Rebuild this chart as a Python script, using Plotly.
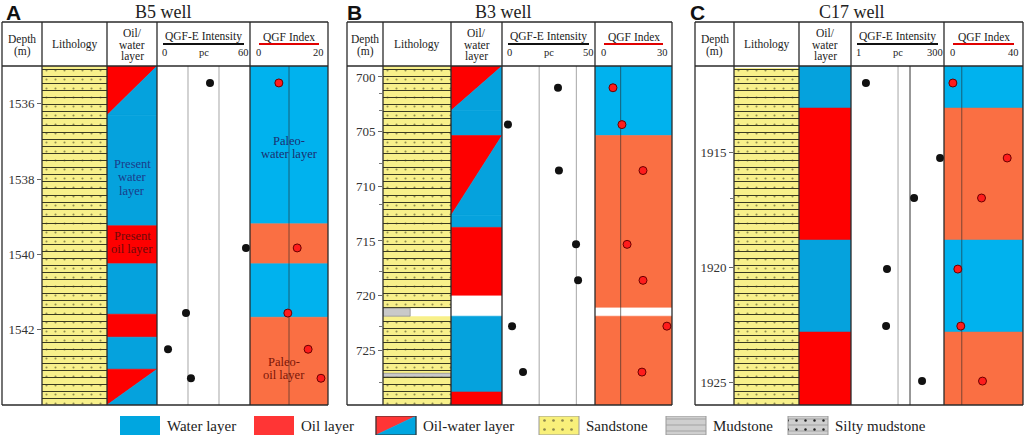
import math
import plotly.graph_objects as go

W, H = 1024, 438
def PX(px): return px / W
def PY(py): return 1 - py / H

FONT = "Liberation Serif"
WATER = "#05a2dd"; OIL = "#fe0000"; PALEO_W = "#00b2ee"; PALEO_O = "#fa6f43"; SAND = "#f8f08a"

# ---------------- data ----------------
A_range = [1535.0, 1544.0]
A_ticks = [1536, 1538, 1540, 1542]
A_layers = [(1535.0, 1536.31, 'ow'), (1536.31, 1539.24, 'w'), (1539.24, 1540.25, 'o'),
            (1540.25, 1541.59, 'w'), (1541.59, 1542.2, 'o'), (1542.2, 1543.05, 'w'),
            (1543.05, 1544.0, 'ow')]
A_paleo = [(1535.0, 1539.19, 'w'), (1539.19, 1540.25, 'o'), (1540.25, 1541.67, 'w'),
           (1541.67, 1544.0, 'o')]
A_litho = [(1535.0, 1544.0, 'sand')]
A_depth = [1535.45, 1539.83, 1541.56, 1542.52, 1543.29]
A_intensity = [34.2, 57.4, 18.7, 7.1, 21.9]
A_index = [7.4, 12.1, 9.7, 14.9, 18.2]

B_range = [699.0, 730.0]
B_ticks = [700, 705, 710, 715, 720, 725]
B_minor = [701.5, 703.1, 707.9, 711.7, 717.8, 722.8, 727.9]
B_layers = [(699.0, 703.08, 'ow'), (703.08, 705.36, 'w'), (705.36, 712.66, 'ow'),
            (712.66, 713.76, 'w'), (713.76, 719.96, 'o'), (721.88, 728.81, 'w'),
            (728.81, 730.0, 'o')]
B_paleo = [(699.0, 705.36, 'w'), (705.36, 721.06, 'o'), (721.88, 730.0, 'o')]
B_litho = [(699.0, 721.15, 'sand'), (721.15, 721.88, 'mud_part'), (721.88, 727.1, 'sand'),
           (727.1, 727.4, 'mud'), (727.4, 730.0, 'sand')]
B_depth = [700.99, 704.36, 708.56, 715.31, 718.6, 722.79, 726.99]
B_intensity = [30.1, 3.2, 30.6, 39.8, 40.9, 5.4, 11.3]
B_index = [7.0, 10.5, 18.7, 12.5, 18.7, 28.0, 18.3]

C_range = [1911.26, 1926.0]
C_ticks = [1915, 1920, 1925]
C_minor = [1917.0]
C_layers = [(1911.26, 1913.09, 'w'), (1913.09, 1918.83, 'o'), (1918.83, 1922.83, 'w'),
            (1922.83, 1926.0, 'o')]
C_paleo = [(1911.26, 1913.09, 'w'), (1913.09, 1918.83, 'o'), (1918.83, 1922.83, 'w'),
           (1922.83, 1926.0, 'o')]
C_litho = [(1911.35, 1926.0, 'sand')]
C_depth = [1912.0, 1915.26, 1917.0, 1920.09, 1922.57, 1924.96]
C_intensity = [2.5, 236, 47.9, 9.1, 8.6, 78]
C_index = [4.5, 32, 19, 7, 8.5, 19.5]

legend_labels = ["Water layer", "Oil layer", "Oil-water layer", "Sandstone", "Mudstone", "Silty mudstone"]

panels = [
    dict(letter="A", title="B5 well", L=2, cols=[42, 107, 157, 250, 328], tx=163, lx=4,
         rng=A_range, ticks=A_ticks, minor=None, layers=A_layers, paleo=A_paleo, litho=A_litho,
         depth=A_depth, inten=A_intensity, idx=A_index, irng=[0, 60], log=False, xrng=[0, 20],
         ilab=("0", "60"), xlab=("0", "20"), igrid=[20, 40], xgrid=[10]),
    dict(letter="B", title="B3 well", L=347, cols=[383, 451, 502, 595, 672], tx=503, lx=345,
         rng=B_range, ticks=B_ticks, minor=B_minor, layers=B_layers, paleo=B_paleo, litho=B_litho,
         depth=B_depth, inten=B_intensity, idx=B_index, irng=[0, 50], log=False, xrng=[0, 30],
         ilab=("0", "50"), xlab=("0", "30"), igrid=[20, 40], xgrid=[10]),
    dict(letter="C", title="C17 well", L=695, cols=[734, 799, 851, 944, 1023], tx=852, lx=688,
         rng=C_range, ticks=C_ticks, minor=C_minor, layers=C_layers, paleo=C_paleo, litho=C_litho,
         depth=C_depth, inten=C_intensity, idx=C_index, irng=[1, 300], log=True, xrng=[0, 40],
         ilab=("1", "300"), xlab=("0", "40"), igrid=[17.9, 37.3], xgrid=[9]),
]

fig = go.Figure()
layout = {}
shapes = []
ann = []

def axname(prefix, n):
    return prefix + ("" if n == 1 else str(n))

def poly(xs, ys, color, xa, ya):
    fig.add_trace(go.Scatter(x=xs, y=ys, fill="toself", fillcolor=color, mode="lines",
                             line=dict(color=color, width=0.6), hoverinfo="skip",
                             showlegend=False, xaxis=xa, yaxis=ya))

def txt(x, y, s, size=11.5, color="#222", xanchor="center", family=FONT, xref="paper", yref="paper", yshift=0, bold=False):
    if bold:
        s = "<b>" + s + "</b>"
    ann.append(dict(x=x, y=y, xref=xref, yref=yref, text=s, showarrow=False, xanchor=xanchor,
                    yanchor="middle", yshift=yshift, font=dict(family=family, size=size, color=color)))

def line(x0, y0, x1, y1, color="#2a2a2a", width=1.3):
    shapes.append(dict(type="line", xref="paper", yref="paper", x0=PX(x0), y0=PY(y0),
                       x1=PX(x1), y1=PY(y1), line=dict(color=color, width=width)))

TOP, HB, BOT = 22, 66, 405

for i, P in enumerate(panels):
    yn = i + 1
    yref = axname("y", yn)
    xn = [4 * i + k for k in (1, 2, 3, 4)]
    xr = [axname("x", n) for n in xn]
    c = P["cols"]
    ranges = [[0, 1], [0, 1], P["irng"], P["xrng"]]
    for k in range(4):
        ax = dict(domain=[PX(c[k]), PX(c[k + 1])], range=ranges[k], visible=False,
                  anchor=yref, fixedrange=True)
        if k == 2 and P["log"]:
            ax["type"] = "log"
            ax["range"] = [math.log10(P["irng"][0]), math.log10(P["irng"][1])]
        layout[axname("xaxis", xn[k])] = ax
    yax = dict(domain=[PY(BOT), PY(HB)], range=[P["rng"][1], P["rng"][0]], anchor=xr[0],
               side="left", showgrid=False, zeroline=False, showline=False, ticks="outside",
               ticklen=4, tickcolor="#666", tickvals=P["ticks"], fixedrange=True,
               tickfont=dict(family=FONT, size=13, color="#333"))
    if P["minor"]:
        yax["minor"] = dict(tickvals=P["minor"], ticks="outside", ticklen=3, tickcolor="#777")
    layout[axname("yaxis", yn)] = yax

    # lithology
    sand = [(d0, d1) for d0, d1, t in P["litho"] if t == "sand"]
    mud = [(d0, d1, t) for d0, d1, t in P["litho"] if t != "sand"]
    if sand:
        fig.add_trace(go.Bar(x=[0.5] * len(sand), y=[d1 - d0 for d0, d1 in sand], base=[d0 for d0, d1 in sand],
                             width=[1] * len(sand), xaxis=xr[0], yaxis=yref, showlegend=False, hoverinfo="skip",
                             marker=dict(color=SAND, line=dict(width=0),
                                         pattern=dict(shape=".", fgcolor="#2a2a10", bgcolor=SAND, size=9,
                                                      solidity=0.045, fillmode="overlay"))))
        fig.add_trace(go.Bar(x=[0.5] * len(sand), y=[d1 - d0 for d0, d1 in sand], base=[d0 for d0, d1 in sand],
                             width=[1] * len(sand), xaxis=xr[0], yaxis=yref, showlegend=False, hoverinfo="skip",
                             marker=dict(color="#3a3a20", line=dict(width=0),
                                         pattern=dict(shape="-", fgcolor="#3a3a20", bgcolor="rgba(0,0,0,0)", size=7,
                                                      solidity=0.15, fillmode="replace"))))
    if mud:
        fig.add_trace(go.Bar(x=[0.2 if t == "mud_part" else 0.5 for _, _, t in mud],
                             width=[0.4 if t == "mud_part" else 1 for _, _, t in mud],
                             y=[d1 - d0 for d0, d1, _ in mud], base=[d0 for d0, _, _ in mud],
                             xaxis=xr[0], yaxis=yref, showlegend=False, hoverinfo="skip",
                             marker=dict(color="#c9c9c9", line=dict(width=0.6, color="#777"))))

    # present oil/water
    for d0, d1, t in P["layers"]:
        if t == "ow":
            poly([0, 1, 0, 0], [d0, d0, d1, d0], OIL, xr[1], yref)
            poly([1, 1, 0, 1], [d0, d1, d1, d0], WATER, xr[1], yref)
        else:
            poly([0, 1, 1, 0, 0], [d0, d0, d1, d1, d0], WATER if t == "w" else OIL, xr[1], yref)
    # paleo
    a0, a1 = P["xrng"]
    for d0, d1, t in P["paleo"]:
        poly([a0, a1, a1, a0, a0], [d0, d0, d1, d1, d0], PALEO_W if t == "w" else PALEO_O, xr[3], yref)

    # grid lines
    for j, g in enumerate(P["igrid"]):
        colr = "#555" if (P["log"] and j == 1) else "#b5b5b5"
        fig.add_trace(go.Scatter(x=[g, g], y=P["rng"], mode="lines", line=dict(color=colr, width=1.2),
                                 hoverinfo="skip", showlegend=False, xaxis=xr[2], yaxis=yref))
    for g in P["xgrid"]:
        fig.add_trace(go.Scatter(x=[g, g], y=P["rng"], mode="lines", line=dict(color="rgba(40,40,40,0.6)", width=1),
                                 hoverinfo="skip", showlegend=False, xaxis=xr[3], yaxis=yref))

    # points
    fig.add_trace(go.Scatter(x=P["inten"], y=P["depth"], mode="markers", xaxis=xr[2], yaxis=yref,
                             marker=dict(size=8, color="#111"), showlegend=False, hoverinfo="skip"))
    fig.add_trace(go.Scatter(x=P["idx"], y=P["depth"], mode="markers", xaxis=xr[3], yaxis=yref,
                             marker=dict(size=8, color="#ff1c1c", line=dict(color="#6a0000", width=1)),
                             showlegend=False, hoverinfo="skip"))

    # frame
    L, R = P["L"], c[4]
    line(L, TOP, R, TOP); line(L, BOT, R, BOT); line(L, TOP, L, BOT); line(R, TOP, R, BOT)
    line(L, HB, R, HB)
    for cx in c[:4]:
        line(cx, TOP, cx, BOT)

    # titles
    txt(PX(P["lx"]), PY(12), P["letter"], size=21, color="#111", xanchor="left",
        family="Liberation Sans", bold=True)
    txt(PX(P["tx"]), PY(12), P["title"], size=18, color="#222")

    # header
    dc = (L + c[0]) / 2
    txt(PX(dc), PY(39), "Depth"); txt(PX(dc), PY(51), "(m)")
    txt(PX((c[0] + c[1]) / 2), PY(45), "Lithology")
    oc = (c[1] + c[2]) / 2
    txt(PX(oc), PY(33), "Oil/"); txt(PX(oc), PY(45), "water"); txt(PX(oc), PY(57), "layer")
    ic = (c[2] + c[3]) / 2
    txt(PX(ic), PY(37), "QGF-E Intensity")
    line(c[2] + 6, 44, c[3] - 6, 44, color="#111", width=2)
    txt(PX(c[2] + 3), PY(53), P["ilab"][0], size=10.5, xanchor="left")
    txt(PX(ic), PY(53), "pc", size=10.5)
    txt(PX(c[3] + 1), PY(53), P["ilab"][1], size=10.5, xanchor="right")
    xc = (c[3] + c[4]) / 2
    txt(PX(xc), PY(37), "QGF Index")
    line(c[3] + 9, 44, c[4] - 9, 44, color="#e00000", width=2)
    txt(PX(c[3] + 4), PY(53), P["xlab"][0], size=10.5, xanchor="left")
    txt(PX(c[4] - 2), PY(53), P["xlab"][1], size=10.5, xanchor="right")

# in-column labels (panel A)
def multiline(lines, x, y, xref, yref, color, size=12.5, step=13.5):
    n = len(lines)
    for k, s in enumerate(lines):
        txt(x, y, s, size=size, color=color, xref=xref, yref=yref, yshift=-(k - (n - 1) / 2) * step)

multiline(["Present", "water", "layer"], 0.5, 1537.96, "x2", "y", "#1b3c8a")
multiline(["Present", "oil layer"], 0.5, 1539.69, "x2", "y", "#6e0a0a")
multiline(["Paleo-", "water layer"], 10, 1537.16, "x4", "y", "#1b3070")
multiline(["Paleo-", "oil layer"], 8.7, 1543.03, "x4", "y", "#7a1608")

# ---------------- legend ----------------
layout["xaxis13"] = dict(domain=[0, 1], range=[0, W], visible=False, anchor="y4", fixedrange=True)
layout["yaxis4"] = dict(domain=[PY(435), PY(416)], range=[0, 1], visible=False, anchor="x13", fixedrange=True)
sw_left = [120, 254, 376, 539, 666, 788]
SW = 40
def sw_bar(left, color, pattern=None, border=None):
    m = dict(color=color, line=dict(width=1 if border else 0, color=border or color))
    if pattern:
        m["pattern"] = pattern
    fig.add_trace(go.Bar(x=[left + SW / 2], y=[1], base=[0], width=[SW], marker=m, xaxis="x13", yaxis="y4",
                         showlegend=False, hoverinfo="skip"))

sw_bar(sw_left[0], "#00a6e0")
sw_bar(sw_left[1], "#ff3535")
l2 = sw_left[2]
fig.add_trace(go.Scatter(x=[l2, l2 + SW, l2, l2], y=[1, 1, 0, 1], fill="toself", fillcolor="#ff3535",
                         mode="lines", line=dict(width=0.5, color="#ff3535"), xaxis="x13", yaxis="y4",
                         showlegend=False, hoverinfo="skip"))
fig.add_trace(go.Scatter(x=[l2 + SW, l2 + SW, l2, l2 + SW], y=[1, 0, 0, 1], fill="toself", fillcolor="#00a6e0",
                         mode="lines", line=dict(width=0.5, color="#00a6e0"), xaxis="x13", yaxis="y4",
                         showlegend=False, hoverinfo="skip"))
fig.add_trace(go.Scatter(x=[l2, l2 + SW, l2 + SW, l2, l2], y=[0, 0, 1, 1, 0], mode="lines",
                         line=dict(width=1.2, color="#333"), xaxis="x13", yaxis="y4",
                         showlegend=False, hoverinfo="skip"))
sw_bar(sw_left[3], "#f8f07a", dict(shape=".", fgcolor="#222", bgcolor="#f8f07a", size=9, solidity=0.07,
                                   fillmode="overlay"), border="#999")
sw_bar(sw_left[4], "#cfcfcf", dict(shape="-", fgcolor="#777", bgcolor="#cfcfcf", size=6, solidity=0.17,
                                   fillmode="overlay"), border="#999")
sw_bar(sw_left[5], "#cfcfcf", dict(shape="-", fgcolor="#777", bgcolor="#cfcfcf", size=6, solidity=0.17,
                                   fillmode="overlay"), border="#999")
sw_bar(sw_left[5], "#222", dict(shape=".", fgcolor="#222", bgcolor="rgba(0,0,0,0)", size=9, solidity=0.06,
                                fillmode="replace"))
for left, lab in zip(sw_left, legend_labels):
    txt(PX(left + SW + 5), PY(426), lab, size=15, color="#222", xanchor="left")

fig.update_layout(width=W, height=H, margin=dict(l=0, r=0, t=0, b=0), paper_bgcolor="white",
                  plot_bgcolor="white", barmode="overlay", shapes=shapes, annotations=ann, **layout)
fig.write_html("out.html", config={"displayModeBar": False},
               post_script="document.body.style.margin='0';document.body.style.overflow='hidden';")
